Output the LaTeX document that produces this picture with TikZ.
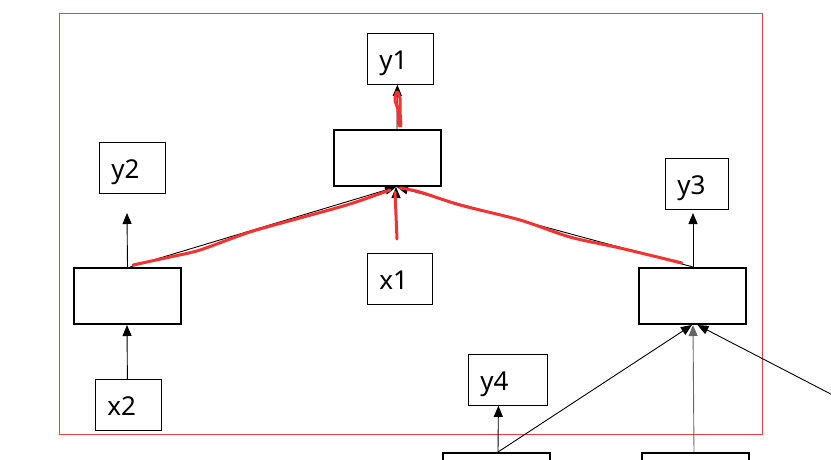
\documentclass[tikz,border=0pt]{standalone}
\usepackage{fontspec}
\setmainfont{Noto Sans}
\usetikzlibrary{arrows.meta,calc}
\definecolor{frame}{RGB}{250,60,60}
\definecolor{pen}{RGB}{245,50,50}
\begin{document}
\begin{tikzpicture}[x=1pt,y=-1pt,
  lab/.style={draw, line width=0.8pt, minimum height=51pt, inner xsep=12pt, inner ysep=0pt,
    anchor=north west, text height=22pt, text depth=0pt, font=\fontsize{26}{26}\selectfont, align=left},
  cell/.style={draw, line width=2pt, minimum width=107pt, minimum height=56pt, inner sep=0pt},
  arr/.style={line width=0.9pt, -{Triangle[length=11pt,width=9pt]}},
  scrib/.style={pen, line width=3pt, line cap=round, line join=round}]
\useasboundingbox (0,0) rectangle (831,460);
\clip (0,0) rectangle (831,460);
\fill[white] (0,0) rectangle (831,460);
% red frame
\draw[frame, line width=0.9pt] (59,13) rectangle (762,434);
% labels
\node[lab, text width=42pt] (y1) at (367,33) {y1};
\node[lab, text width=42pt] (y2) at (99,142) {y2};
\node[lab, text width=42pt] (x2) at (95,379) {x2};
\node[lab, text width=41pt] (x1) at (367,253) {x1};
\node[lab, text width=39pt] (y3) at (665,158) {y3};
\node[lab, text width=55pt] (y4) at (468,354) {y4};
% cells
\node[cell] (h1) at (387.5,158) {};
\node[cell] (h2) at (127.5,296) {};
\node[cell] (h3) at (692.5,296) {};
\node[cell] (h4) at (496.5,481) {};
\node[cell] (h5) at (695.5,481) {};
% free ends
\coordinate (y2in) at (127,213);
\coordinate (y3in) at (693,213);
\coordinate (x1out) at (396,240);
\coordinate (offr) at (850,404);
% connectors
\draw[arr] ([xshift=9.5pt]h1.north) -- ([xshift=-3pt]y1.south);
\draw[arr] ([xshift=-1pt]x2.north) -- ([xshift=-0.5pt]h2.south);
\draw[arr] (h2.north) -- (y2in);
\draw[arr] (x1out) -- ([xshift=8.5pt]h1.south);
\draw[arr] ([xshift=2.5pt]h2.north) -- ([xshift=8.5pt]h1.south);
\draw[arr] ([xshift=0.5pt]h3.north) -- ([xshift=9.5pt]h1.south);
\draw[arr] ([xshift=0.5pt]h3.north) -- (y3in);
\draw[arr] ([xshift=1.5pt]h4.north) -- ([xshift=-9.5pt]y4.south);
\draw[arr] ([xshift=1.5pt]h4.north) -- ([xshift=-0.5pt]h3.south);
\draw[arr, black!60] ([xshift=-1.5pt]h5.north) -- ([xshift=0.5pt]h3.south);
\draw[arr] (offr) -- ([xshift=5pt]h3.south);
% red scribbles
\draw[scrib] plot[smooth] coordinates {(399,126)(398,110)(395,100)(397,92)(400,98)(400,110)(401,126)};
\draw[scrib] plot[smooth] coordinates {(395,192)(396,215)(397,239)};
\draw[scrib] plot[smooth] coordinates {(133,265)(170,257)(200,250)(250,232)(300,218)(350,204)(390,190)};
\draw[scrib] plot[smooth] coordinates {(400,188)(420,192)(460,205)(520,220)(570,237)(620,248)(682,263)};
\end{tikzpicture}
\end{document}
